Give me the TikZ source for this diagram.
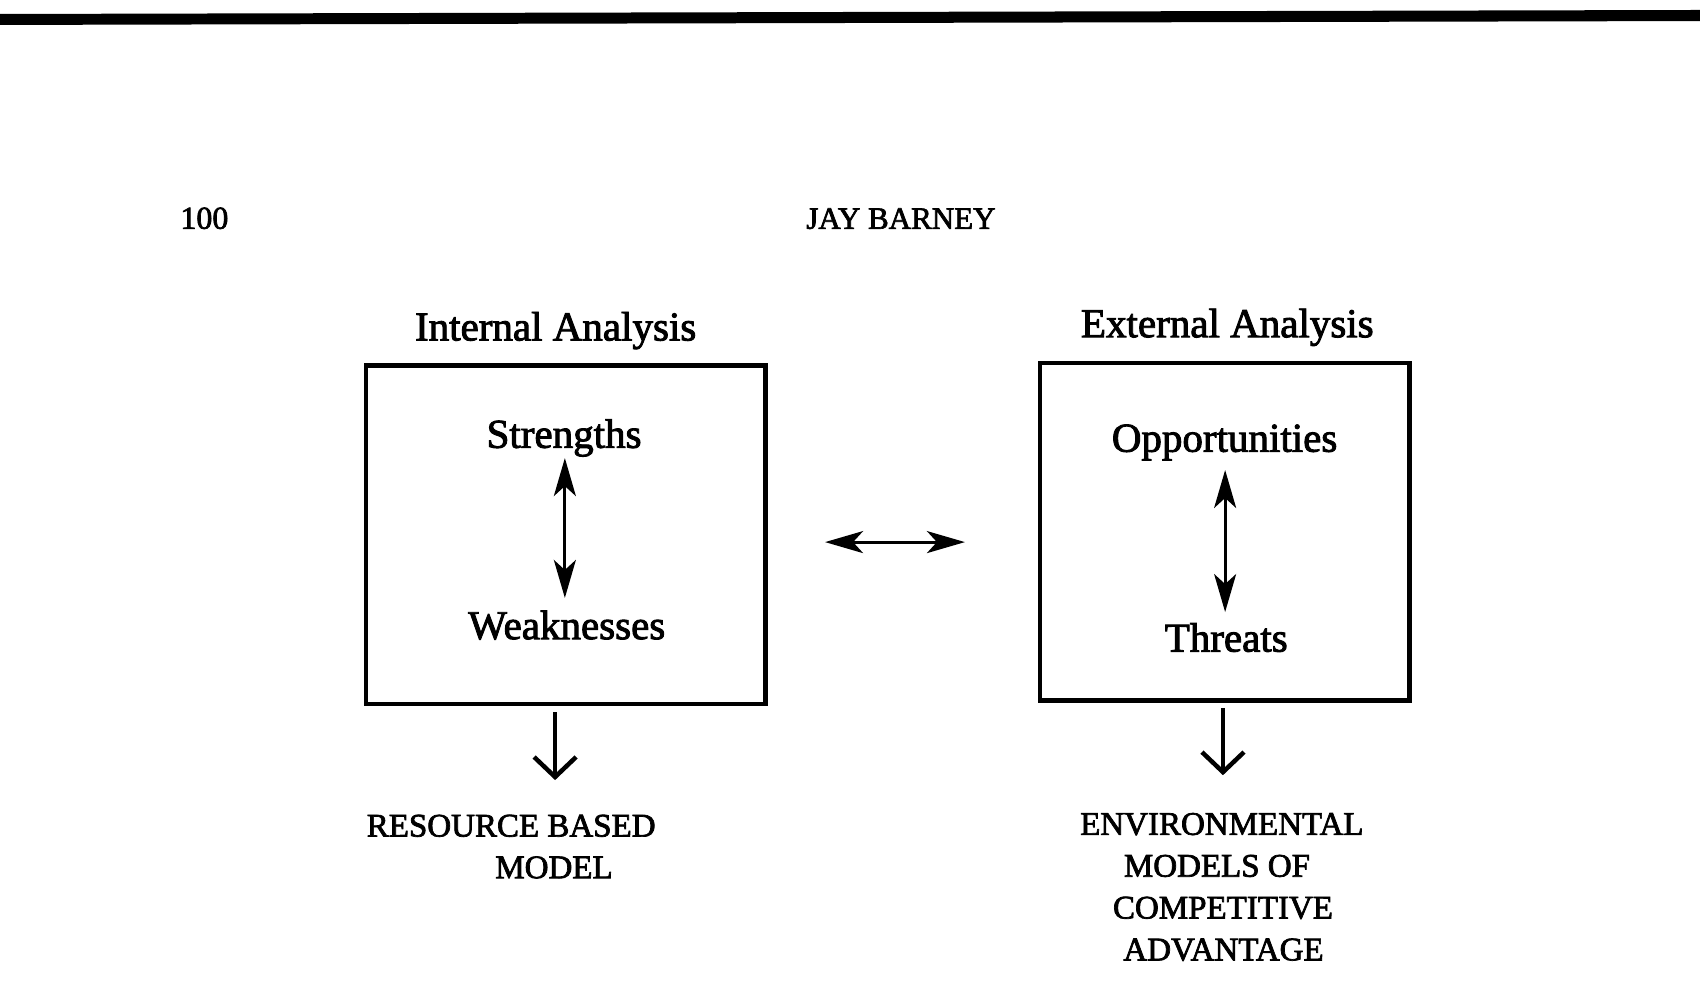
\documentclass[tikz,border=0pt]{standalone}
\usepackage{fontspec}
\setmainfont{Liberation Serif}[FakeBold=2.2]
\usetikzlibrary{arrows.meta}
\begin{document}
\begin{tikzpicture}[x=1.0842pt,y=-1.0842pt,
  big/.style={font=\fontsize{41}{48}\selectfont, inner sep=0pt, anchor=base},
  caps/.style={font=\fontsize{33}{40}\selectfont, inner sep=0pt, anchor=base},
  frame/.style={draw, line width=4.5pt, inner sep=0pt},
  twoway/.style={line width=2.8pt, {Stealth[length=38pt,width=22pt,inset=10pt]}-{Stealth[length=38pt,width=22pt,inset=10pt]}},
  down/.style={line width=4.5pt, -{Straight Barb[length=20pt,width=42pt]}},
]
\useasboundingbox (0,0) rectangle (1568,926);
\fill[white] (0,0) rectangle (1568,926);
% top rule
\fill[black] (0,12.9) -- (1568,9.2) -- (1568,19.4) -- (0,23) -- cycle;

% header
\node[caps, font=\fontsize{32}{40}\selectfont] (page) at (188.5,211) {100};
\node[caps, font=\fontsize{31}{40}\selectfont] (author) at (831,211) {JAY BARNEY};

% titles
\node[big] (itit) at (512.5,314) {Internal Analysis};
\node[big] (etit) at (1132,311) {External Analysis};

% boxes
\node[frame, minimum width=399.5pt, minimum height=338.8pt] (ibox) at (521.75,493.25) {};
\node[frame, minimum width=369.7pt, minimum height=337.2pt] (ebox) at (1129.5,490.5) {};

% box contents
\node[big] (str) at (520.3,413) {Strengths};
\node[big] (weak) at (522.7,589.5) {Weaknesses};
\node[big] (opp) at (1129.5,416.6) {Opportunities};
\node[big] (thr) at (1131,601) {Threats};

\coordinate (sw1) at (521,422.5);
\coordinate (sw2) at (521,551.5);
\coordinate (ot1) at (1130,433.5);
\coordinate (ot2) at (1130,564.5);
\draw[twoway] (sw1) -- (sw2);
\draw[twoway] (ot1) -- (ot2);

% middle arrow
\coordinate (m1) at (761,500);
\coordinate (m2) at (890,500);
\draw[twoway] (m1) -- (m2);

% down arrows
\coordinate (d1a) at (512,657);
\coordinate (d1b) at (512,719.5);
\coordinate (d2a) at (1128,653);
\coordinate (d2b) at (1128,715);
\draw[down] (d1a) -- (d1b);
\draw[down] (d2a) -- (d2b);

% bottom labels
\node[caps] (rb1) at (471.5,771.6) {RESOURCE BASED};
\node[caps] (rb2) at (511,810) {MODEL};
\node[caps] (em1) at (1127,770) {ENVIRONMENTAL};
\node[caps] (em2) at (1122.5,808.6) {MODELS OF};
\node[caps] (em3) at (1128,847.2) {COMPETITIVE};
\node[caps] (em4) at (1128.5,885.8) {ADVANTAGE};
\end{tikzpicture}
\end{document}
